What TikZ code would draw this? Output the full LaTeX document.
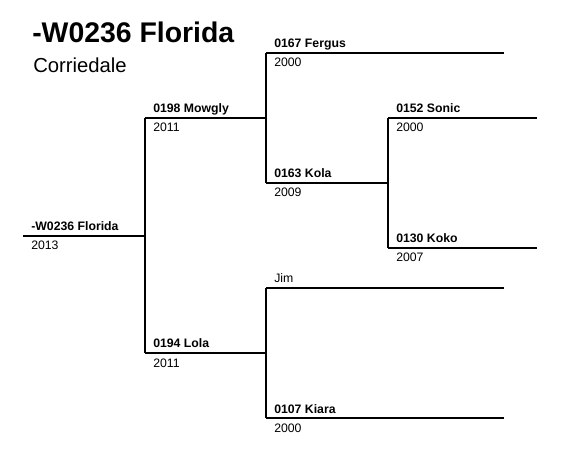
\documentclass[tikz,border=0pt]{standalone}
\usepackage{fontspec}
\setmainfont{Liberation Sans}
\begin{document}
\begin{tikzpicture}[x=0.75pt,y=-0.75pt,
  branch/.style={line width=1pt,black},
  namelbl/.style={anchor=base west,inner sep=0pt,font=\fontsize{9.2pt}{11pt}\selectfont\bfseries},
  plainlbl/.style={anchor=base west,inner sep=0pt,font=\fontsize{9.2pt}{11pt}\selectfont},
  yearlbl/.style={anchor=base west,inner sep=0pt,font=\fontsize{9.2pt}{11pt}\selectfont}]
\useasboundingbox (0,0) rectangle (564,452);
% title
\node[anchor=base west,inner sep=0pt,font=\fontsize{21.3pt}{24pt}\selectfont\bfseries] (title) at (32,43) {-W0236 Florida};
\node[anchor=base west,inner sep=0pt,font=\fontsize{15.2pt}{18pt}\selectfont] (breed) at (33,73) {Corriedale};
% line coordinates
\coordinate (fl-s) at (23,236);   \coordinate (fl-e) at (145,236);
\coordinate (mo-s) at (145,118);  \coordinate (mo-e) at (266,118);
\coordinate (lo-s) at (145,353);  \coordinate (lo-e) at (266,353);
\coordinate (fe-s) at (266,53);   \coordinate (fe-e) at (504,53);
\coordinate (ko-s) at (266,183);  \coordinate (ko-e) at (388,183);
\coordinate (so-s) at (388,118);  \coordinate (so-e) at (537,118);
\coordinate (kk-s) at (388,248);  \coordinate (kk-e) at (537,248);
\coordinate (ji-s) at (266,288);  \coordinate (ji-e) at (504,288);
\coordinate (ki-s) at (266,418);  \coordinate (ki-e) at (504,418);
% horizontal lines
\draw[branch] (fl-s) -- (fl-e);
\draw[branch] (mo-s) -- (mo-e);
\draw[branch] (lo-s) -- (lo-e);
\draw[branch] (fe-s) -- (fe-e);
\draw[branch] (ko-s) -- (ko-e);
\draw[branch] (so-s) -- (so-e);
\draw[branch] (kk-s) -- (kk-e);
\draw[branch] (ji-s) -- (ji-e);
\draw[branch] (ki-s) -- (ki-e);
% verticals
\draw[branch] (mo-s) -- (lo-s);
\draw[branch] (fe-s) -- (ko-s);
\draw[branch] (so-s) -- (kk-s);
\draw[branch] (ji-s) -- (ki-s);
% labels
\node[namelbl] (fl) at (31,231) {-W0236 Florida};
\node[yearlbl] (fly) at (31,250) {2013};
\node[namelbl] (mo) at (153,113) {0198 Mowgly};
\node[yearlbl] (moy) at (153,132) {2011};
\node[namelbl] (lo) at (153,348) {0194 Lola};
\node[yearlbl] (loy) at (153,367) {2011};
\node[namelbl] (fe) at (274,48) {0167 Fergus};
\node[yearlbl] (fey) at (274,67) {2000};
\node[namelbl] (ko) at (274,178) {0163 Kola};
\node[yearlbl] (koy) at (274,197) {2009};
\node[namelbl] (so) at (396,113) {0152 Sonic};
\node[yearlbl] (soy) at (396,132) {2000};
\node[namelbl] (kk) at (396,243) {0130 Koko};
\node[yearlbl] (kky) at (396,262) {2007};
\node[plainlbl] (ji) at (274,283) {Jim};
\node[namelbl] (ki) at (274,413) {0107 Kiara};
\node[yearlbl] (kiy) at (274,432) {2000};
\end{tikzpicture}
\end{document}
